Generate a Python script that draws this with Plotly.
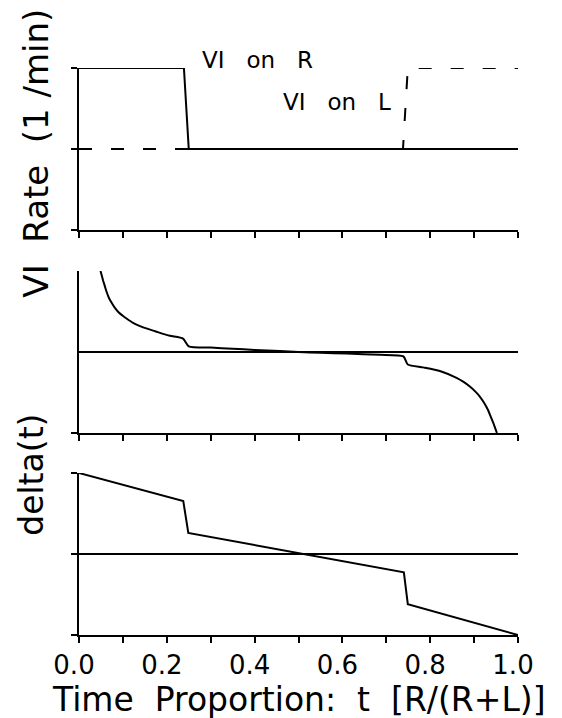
import plotly.graph_objects as go

# ---- data ----
t_rate_R = [0.0, 0.239, 0.25, 1.0]
rate_R = [2.0, 2.0, 1.0, 1.0]
t_rate_L = [0.0, 0.738, 0.749, 1.0]
rate_L = [1.0, 1.0, 2.0, 2.0]

t_vi = [0.049, 0.052, 0.055, 0.059, 0.063, 0.068, 0.074, 0.081, 0.09, 0.099,
        0.109, 0.123, 0.139, 0.157, 0.177, 0.207, 0.237,
        0.25, 0.3, 0.35, 0.4, 0.458, 0.5, 0.55, 0.61, 0.686, 0.739,
        0.749, 0.784, 0.822, 0.86, 0.876, 0.891, 0.903, 0.913, 0.923, 0.932,
        0.938, 0.944, 0.948, 0.952]
vi = [1.0, 0.94, 0.88, 0.81, 0.74, 0.67, 0.61, 0.55, 0.49, 0.45,
      0.41, 0.36, 0.32, 0.285, 0.25, 0.2, 0.165,
      0.07, 0.055, 0.04, 0.025, 0.012, 0.0, -0.01, -0.02, -0.035, -0.055,
      -0.155, -0.19, -0.235, -0.32, -0.37, -0.43, -0.49, -0.55, -0.63, -0.72,
      -0.8, -0.88, -0.94, -1.0]

t_delta = [0.0, 0.2375, 0.249, 0.74, 0.749, 1.0]
delta = [1.0, 0.655, 0.26, -0.227, -0.62, -1.0]

x_tick_vals = [0.0, 0.2, 0.4, 0.6, 0.8, 1.0]
x_tick_text = ["0.0", "0.2", "0.4", "0.6", "0.8", "1.0"]

FONT = "DejaVu Sans, sans-serif"
NB = "\u00a0"

fig = go.Figure()
line = dict(color="black", width=2)
fig.add_trace(go.Scatter(x=t_rate_R, y=rate_R, mode="lines", line=line,
                         xaxis="x", yaxis="y", showlegend=False))
fig.add_trace(go.Scatter(x=t_rate_L, y=rate_L, mode="lines",
                         line=dict(color="black", width=2, dash="13px,19px"),
                         xaxis="x", yaxis="y", showlegend=False))
fig.add_trace(go.Scatter(x=t_vi, y=vi, mode="lines", line=dict(line, shape="spline", smoothing=0.6),
                         xaxis="x2", yaxis="y2", showlegend=False))
fig.add_trace(go.Scatter(x=t_delta, y=delta, mode="lines", line=line,
                         xaxis="x3", yaxis="y3", showlegend=False))

xcommon = dict(range=[0, 1], showline=True, linecolor="black", linewidth=2,
               ticks="outside", ticklen=6, tickwidth=2, tickcolor="black",
               dtick=0.1, tick0=0, showgrid=False, zeroline=False,
               showticklabels=False)
ycommon = dict(showline=True, linecolor="black", linewidth=2,
               ticks="outside", ticklen=6, tickwidth=2, tickcolor="black",
               showgrid=False, showticklabels=False)

# page has an 8px body margin, so the figure is 8px smaller than the window
fig.update_layout(
    width=554, height=710,
    margin=dict(l=71, r=44, t=60, b=83),
    paper_bgcolor="white", plot_bgcolor="white",
    font=dict(family=FONT, color="black"),
    xaxis=dict(xcommon, anchor="y"),
    yaxis=dict(ycommon, domain=[0.7143, 1.0], range=[0, 2], tickvals=[0, 1, 2],
               zeroline=False, anchor="x"),
    xaxis2=dict(xcommon, anchor="y2"),
    yaxis2=dict(ycommon, domain=[0.3563, 0.642], range=[-1, 1], tickvals=[-1],
                zeroline=True, zerolinecolor="black", zerolinewidth=1.5,
                anchor="x2"),
    xaxis3=dict(xcommon, anchor="y3"),
    yaxis3=dict(ycommon, domain=[0.0, 0.2857], range=[-1, 1], tickvals=[-1, 0, 1],
                zeroline=True, zerolinecolor="black", zerolinewidth=1.5,
                anchor="x3"),
)
fig.update_layout(xaxis3=dict(showticklabels=True, tickmode="array",
                              tickvals=x_tick_vals, ticktext=x_tick_text,
                              ticklabelshift=-5,
                              tickfont=dict(size=26, family=FONT, color="black"),
                              minor=dict(dtick=0.1, ticks="outside", ticklen=6,
                                         tickwidth=2, tickcolor="black")))

annotations = [
    dict(text="VI" + NB * 3 + "on" + NB * 3 + "R", xref="x", yref="y",
         x=0.2756, y=1.91, xanchor="left", yanchor="bottom", showarrow=False,
         font=dict(size=23, family=FONT, color="black")),
    dict(text="VI" + NB * 3 + "on" + NB * 3 + "L", xref="x", yref="y",
         x=0.715, y=1.40, xanchor="right", yanchor="bottom", showarrow=False,
         font=dict(size=23, family=FONT, color="black")),
    dict(text="VI" + NB * 2 + "Rate" + NB * 2 + "(1" + NB + "/min)",
         xref="paper", yref="paper", x=-0.0989, y=0.850, textangle=-90,
         xanchor="center", yanchor="middle", showarrow=False,
         font=dict(size=34, family=FONT, color="black")),
    dict(text="delta(t)", xref="paper", yref="paper", x=-0.110, y=0.282,
         textangle=-90, xanchor="center", yanchor="middle", showarrow=False,
         font=dict(size=33, family=FONT, color="black")),
    dict(text="Time" + NB * 2 + "Proportion:" + NB * 2 + "t" + NB * 2 + "[R/(R+L)]",
         xref="paper", yref="paper", x=0.5, y=-0.1146, xanchor="center",
         yanchor="middle", showarrow=False,
         font=dict(size=33, family=FONT, color="black")),
]
fig.update_layout(annotations=annotations)

fig.write_html("out.html")
